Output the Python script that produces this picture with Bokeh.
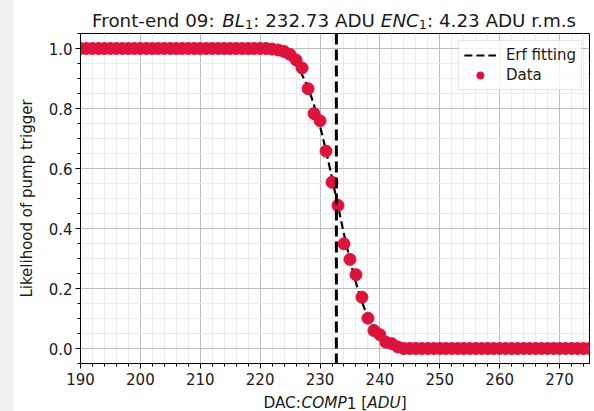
import math
from bokeh.plotting import figure
from bokeh.models import (Label, Legend, LegendItem, FixedTicker, Spacer, Span,
                          Range1d, PrintfTickFormatter, ColumnDataSource)
from bokeh.layouts import row, column
from bokeh.embed import file_html
from bokeh.resources import INLINE

# ---------------- data ----------------
FRONT_END = "09"
BL = 232.73      # ADU
ENC = 4.23       # ADU r.m.s

dac = list(range(190, 276))
likelihood = [
    1.0, 1.0, 1.0, 1.0, 1.0, 1.0, 1.0, 1.0, 1.0, 1.0,      # 190-199
    1.0, 1.0, 1.0, 1.0, 1.0, 1.0, 1.0, 1.0, 1.0, 1.0,      # 200-209
    1.0, 1.0, 1.0, 1.0, 1.0, 1.0, 1.0, 1.0, 1.0, 1.0,      # 210-219
    1.0, 1.0, 0.998, 0.995, 0.99, 0.98, 0.962, 0.935, 0.866, 0.783,  # 220-229
    0.759, 0.658, 0.554, 0.477, 0.349, 0.297, 0.246, 0.171, 0.101, 0.06,  # 230-239
    0.046, 0.021, 0.016, 0.005, 0.0, 0.0, 0.0, 0.0, 0.0, 0.0,  # 240-249
    0.0, 0.0, 0.0, 0.0, 0.0, 0.0, 0.0, 0.0, 0.0, 0.0,      # 250-259
    0.0, 0.0, 0.0, 0.0, 0.0, 0.0, 0.0, 0.0, 0.0, 0.0,      # 260-269
    0.0, 0.0, 0.0, 0.0, 0.0, 0.0,                          # 270-275
]

x_ticks = [190, 200, 210, 220, 230, 240, 250, 260, 270]
y_ticks = [0.0, 0.2, 0.4, 0.6, 0.8, 1.0]
x_minor = [v for v in range(190, 276, 2) if v not in x_ticks]
y_minor = [round(i * 0.05, 2) for i in range(-1, 22) if i % 4 != 0]

# erf fit curve from the fitted parameters
fit_x = [190 + i * 0.1 for i in range(0, 851)]
fit_y = [0.5 * (1.0 - math.erf((xx - BL) / (math.sqrt(2.0) * ENC))) for xx in fit_x]

# ---------------- layout constants ----------------
FONT = "DejaVu Sans"
TXT = "#1a1a1a"
FIG_W = 581
TITLE_H = 33
XLAB_H = 18
MAIN_H = 411 - TITLE_H - XLAB_H
LEFT = 67
RIGHT = 5
BOTTOM = 30
FRAME_W = FIG_W - LEFT - RIGHT

# ---------------- main figure ----------------
p = figure(width=FIG_W, height=MAIN_H, output_backend="svg", toolbar_location=None,
           x_range=Range1d(190, 275), y_range=Range1d(-0.05, 1.05),
           min_border_left=LEFT, min_border_right=RIGHT, min_border_top=0,
           min_border_bottom=BOTTOM)
p.background_fill_color = "white"
p.border_fill_color = "white"
p.outline_line_color = "black"
p.outline_line_width = 1

p.xaxis.ticker = FixedTicker(ticks=x_ticks, minor_ticks=x_minor)
p.yaxis.ticker = FixedTicker(ticks=y_ticks, minor_ticks=y_minor)
p.yaxis.formatter = PrintfTickFormatter(format="%.1f")

for ax in (p.xaxis, p.yaxis):
    ax.axis_line_color = "black"
    ax.major_tick_line_color = "black"
    ax.minor_tick_line_color = "black"
    ax.major_tick_out = 5
    ax.major_tick_in = 0
    ax.minor_tick_out = 3
    ax.minor_tick_in = 0
    ax.major_label_text_font = FONT
    ax.major_label_text_font_size = "15px"
    ax.major_label_text_color = TXT
p.xaxis.major_label_standoff = 4
p.yaxis.major_label_standoff = 3
p.yaxis.axis_label = "Likelihood of pump trigger"
p.yaxis.axis_label_text_font = FONT
p.yaxis.axis_label_text_font_size = "15px"
p.yaxis.axis_label_text_font_style = "normal"
p.yaxis.axis_label_text_color = TXT
p.yaxis.axis_label_standoff = 10

for g in (p.xgrid, p.ygrid):
    g.grid_line_color = "#bdbdbd"
    g.grid_line_width = 1
    g.minor_grid_line_color = "#ebebeb"
    g.minor_grid_line_width = 1

fit_r = p.line(fit_x, fit_y, line_color="black", line_width=2.2, line_dash="8 4")
src = ColumnDataSource(dict(x=dac, y=likelihood))
pts = p.scatter("x", "y", source=src, size=12, fill_color="#DC143C", line_color="#DC143C")

p.add_layout(Span(location=BL, dimension="height", line_color="black",
                  line_width=3, line_dash="11 5"))

legend = Legend(items=[LegendItem(label="Erf fitting", renderers=[fit_r]),
                       LegendItem(label="Data", renderers=[pts])],
                location="top_right")
legend.margin = 7
legend.padding = 5
legend.spacing = 2
legend.glyph_width = 32
legend.glyph_height = 18
legend.label_height = 18
legend.label_standoff = 10
legend.label_text_font = FONT
legend.label_text_font_size = "15px"
legend.label_text_color = TXT
legend.border_line_color = "#cccccc"
legend.border_line_width = 1
legend.background_fill_alpha = 0.8
p.add_layout(legend)

# ---------------- mixed-style text (title, x label) ----------------
W = {" ": 651, "-": 739, ".": 651, ":": 690, "[": 799, "]": 799,
     "A": 1401, "B": 1405, "C": 1430, "D": 1577, "E": 1294, "F": 1178, "L": 1141,
     "M": 1767, "N": 1532, "O": 1612, "P": 1235, "U": 1499,
     "d": 1300, "e": 1260, "m": 1995, "n": 1298, "o": 1253, "r": 842, "s": 1067, "t": 803}


def width(s, size):
    return sum(W.get(c, 1303) for c in s) / 2048.0 * size


def text_strip(height, pieces, size, base_y):
    # the column layout aligns this strip's frame with the main plot frame
    f = figure(width=FIG_W, height=height, output_backend="svg", toolbar_location=None,
               x_range=Range1d(0, 1), y_range=Range1d(0, 1),
               x_axis_type=None, y_axis_type=None,
               min_border_left=LEFT, min_border_right=RIGHT,
               min_border_top=0, min_border_bottom=0)
    f.outline_line_color = None
    f.background_fill_color = "white"
    f.border_fill_color = "white"
    total = sum(width(t, size * sc) for t, st, sc, dy in pieces)
    x = (FRAME_W - total) / 2.0
    for t, st, sc, dy in pieces:
        fs = size * sc
        lead = len(t) - len(t.lstrip(" "))
        x += width(" " * lead, fs)
        shown = t.strip(" ")
        f.add_layout(Label(x=x, y=base_y + dy, x_units="screen", y_units="screen",
                           text=shown, text_font=FONT, text_font_size=f"{fs:.1f}px",
                           text_font_style=st, text_color=TXT,
                           text_align="left", text_baseline="alphabetic"))
        x += width(t.lstrip(" "), fs)
    return f


title_pieces = [
    (f"Front-end {FRONT_END}: ", "normal", 1.0, 0),
    ("BL", "italic", 1.0, 0),
    ("1", "normal", 0.7, -4),
    (f": {BL:.2f} ADU ", "normal", 1.0, 0),
    ("ENC", "italic", 1.0, 0),
    ("1", "normal", 0.7, -4),
    (f": {ENC:.2f} ADU r.m.s", "normal", 1.0, 0),
]
title_fig = text_strip(TITLE_H, title_pieces, 18.3, 13)

xlabel_pieces = [
    ("DAC:", "normal", 1.0, 0),
    ("COMP", "italic", 1.0, 0),
    ("1", "normal", 1.0, 0),
    (" [", "normal", 1.0, 0),
    ("ADU", "italic", 1.0, 0),
    ("]", "normal", 1.0, 0),
]
xlabel_fig = text_strip(XLAB_H, xlabel_pieces, 15.3, 9)

strip = Spacer(width=13, height=411, styles={"background-color": "#f0f0f0"})
layout = row(strip, column(title_fig, p, xlabel_fig))

open("out.html", "w").write(file_html(layout, INLINE))
